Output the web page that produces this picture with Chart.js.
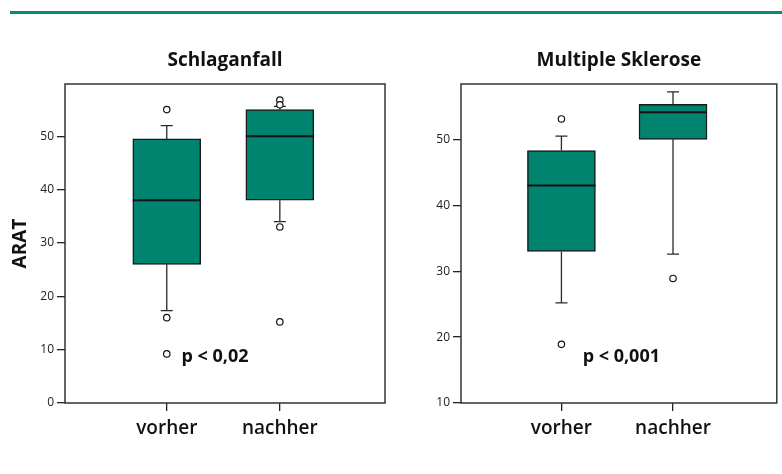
<!DOCTYPE html>
<html>
<head>
<meta charset="utf-8">
<script src="https://cdn.jsdelivr.net/npm/chart.js@4"></script>
<style>
  body { margin: 0; background: #fff; width: 782px; height: 474px; position: relative; overflow: hidden; }
  #topline { position: absolute; left: 10px; top: 11px; width: 772px; height: 2.5px; background: #0a8a7a; }
  .wrap { position: absolute; top: 0; height: 474px; }
  #w1 { left: 0; width: 395px; }
  #w2 { left: 395px; width: 387px; }
</style>
</head>
<body>
<div id="topline"></div>
<div class="wrap" id="w1"><canvas id="schlaganfall"></canvas></div>
<div class="wrap" id="w2"><canvas id="ms"></canvas></div>
<script>
const categories = ["vorher", "nachher"];

// Schlaganfall
const strokeQ1 = [26, 38];
const strokeMedian = [38, 50];
const strokeQ3 = [49.5, 55];
const strokeLow = [17.3, 34];
const strokeHigh = [52, 55.6];
const strokeOutliers = [[55, 16, 9.2], [56.8, 55.9, 33, 15.2]];

// Multiple Sklerose
const msQ1 = [33, 50];
const msMedian = [43, 54.1];
const msQ3 = [48.3, 55.3];
const msLow = [25.2, 32.6];
const msHigh = [50.5, 57.2];
const msOutliers = [[53.1, 18.9], [28.9]];

const pTexts = ["p < 0,02", "p < 0,001"];

const teal = "#00846f";
const fontFam = "'Open Sans', 'DejaVu Sans', sans-serif";
const boxWidth = 68;
const capWidth = 12;

// draws whiskers, median, frame, title and p-value for one chart
function boxExtras(s) {
  return {
    id: "boxExtras",
    beforeDatasetsDraw(chart) {
      const { ctx, scales: { x, y } } = chart;
      ctx.save();
      ctx.strokeStyle = "#2a2a2a";
      ctx.lineWidth = 1.3;
      s.q1.forEach((q, i) => {
        const px = x.getPixelForValue(i + 1);
        [[s.q3[i], s.hi[i]], [q, s.lo[i]]].forEach(([a, b]) => {
          const yb = y.getPixelForValue(b);
          ctx.beginPath();
          ctx.moveTo(px, y.getPixelForValue(a));
          ctx.lineTo(px, yb);
          ctx.moveTo(px - capWidth / 2, yb);
          ctx.lineTo(px + capWidth / 2, yb);
          ctx.stroke();
        });
      });
      ctx.restore();
    },
    afterDatasetsDraw(chart) {
      const { ctx, scales: { x, y } } = chart;
      ctx.save();
      ctx.strokeStyle = "#111";
      ctx.lineWidth = 2;
      s.med.forEach((m, i) => {
        const px = x.getPixelForValue(i + 1);
        const py = y.getPixelForValue(m);
        ctx.beginPath();
        ctx.moveTo(px - boxWidth / 2, py);
        ctx.lineTo(px + boxWidth / 2, py);
        ctx.stroke();
      });
      ctx.restore();
    },
    afterDraw(chart) {
      const { ctx, chartArea: a, scales: { x, y } } = chart;
      ctx.save();
      ctx.strokeStyle = "#333";
      ctx.lineWidth = 1.5;
      ctx.strokeRect(a.left, a.top, a.right - a.left, a.bottom - a.top);
      ctx.fillStyle = "#111";
      ctx.textAlign = "center";
      ctx.textBaseline = "middle";
      ctx.font = "bold 19px " + fontFam;
      ctx.fillText(s.title, (a.left + a.right) / 2, a.top - 23);
      ctx.textAlign = "left";
      ctx.font = "bold 18px " + fontFam;
      ctx.fillText(s.p, x.getPixelForValue(s.pAt[0]), y.getPixelForValue(s.pAt[1]));
      ctx.restore();
    },
  };
}

function makeChart(id, s) {
  const outlierPoints = [];
  s.out.forEach((list, i) => list.forEach((v) => outlierPoints.push({ x: i + 1, y: v })));

  new Chart(document.getElementById(id), {
    type: "bar",
    data: {
      datasets: [
        {
          type: "scatter",
          data: outlierPoints,
          pointRadius: 3.2,
          pointBorderWidth: 1.2,
          pointBackgroundColor: "#fff",
          pointBorderColor: "#111",
          order: 0,
        },
        {
          data: categories.map((c, i) => ({ x: i + 1, y: [s.q1[i], s.q3[i]] })),
          backgroundColor: teal,
          borderColor: "#1a1a1a",
          borderWidth: 1.5,
          borderSkipped: false,
          barThickness: boxWidth,
          order: 1,
        },
      ],
    },
    options: {
      responsive: true,
      maintainAspectRatio: false,
      animation: false,
      layout: { padding: { top: 84, right: s.padRight, bottom: 0, left: 0 } },
      plugins: { legend: { display: false }, tooltip: { enabled: false } },
      scales: {
        x: {
          type: "linear",
          min: 0.1,
          max: 2.93,
          offset: false,
          border: { display: false },
          grid: { offset: false, drawOnChartArea: false, drawTicks: true, tickLength: 8, color: "#222", lineWidth: 1.3 },
          afterBuildTicks: (sc) => { sc.ticks = categories.map((c, i) => ({ value: i + 1 })); },
          afterFit: (sc) => { sc.height = 71; },
          ticks: {
            autoSkip: false,
            maxRotation: 0,
            padding: 6,
            color: "#111",
            font: { family: fontFam, size: 19, weight: "600" },
            callback: (v) => categories[v - 1],
          },
        },
        y: {
          min: s.yMin,
          max: s.yMax,
          border: { display: false },
          grid: { drawOnChartArea: false, drawTicks: true, tickLength: 8, color: "#222", lineWidth: 1.3 },
          afterBuildTicks: (sc) => { sc.ticks = sc.ticks.filter((t) => t.value <= 50); },
          afterFit: (sc) => { sc.width = s.yWidth; },
          ticks: {
            stepSize: 10,
            padding: 3,
            color: "#222",
            font: { family: fontFam, size: 12 },
          },
          title: {
            display: s.yTitle !== "",
            text: s.yTitle,
            color: "#111",
            padding: { top: 9, bottom: 0 },
            font: { family: fontFam, size: 19, weight: "bold" },
          },
        },
      },
    },
    plugins: [boxExtras(s)],
  });
}

makeChart("schlaganfall", {
  title: "Schlaganfall",
  q1: strokeQ1, med: strokeMedian, q3: strokeQ3, lo: strokeLow, hi: strokeHigh, out: strokeOutliers,
  yMin: 0, yMax: 59.8, yWidth: 65, padRight: 10, yTitle: "ARAT",
  p: pTexts[0], pAt: [1.13, 8.6],
});

makeChart("ms", {
  title: "Multiple Sklerose",
  q1: msQ1, med: msMedian, q3: msQ3, lo: msLow, hi: msHigh, out: msOutliers,
  yMin: 10, yMax: 58.4, yWidth: 66, padRight: 1.5, yTitle: "",
  p: pTexts[1], pAt: [1.19, 17],
});
</script>
</body>
</html>
